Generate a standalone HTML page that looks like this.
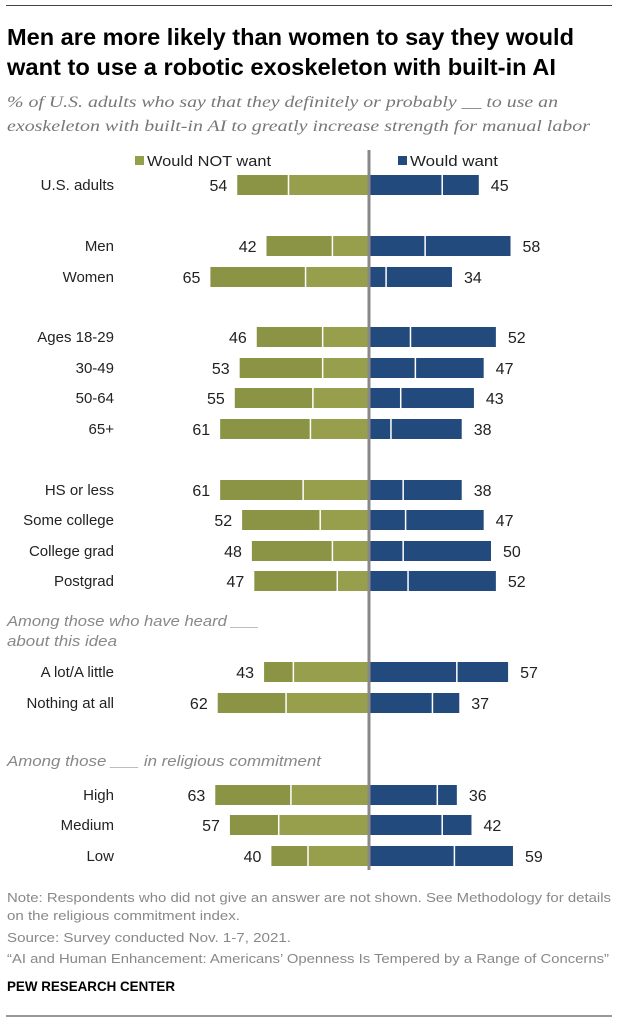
<!DOCTYPE html>
<html><head><meta charset="utf-8">
<style>
html,body{margin:0;padding:0;background:#fff;}
svg{display:block;font-family:"Liberation Sans",sans-serif;}
</style></head>
<body>
<svg id="chart" width="621" height="1024" viewBox="0 0 621 1024">
<line x1="6" y1="5.5" x2="612" y2="5.5" stroke="#444" stroke-width="1"/>
<text x="7" y="45" font-size="23" font-weight="bold" fill="#000" textLength="567" lengthAdjust="spacingAndGlyphs">Men are more likely than women to say they would</text>
<text x="7" y="75" font-size="23" font-weight="bold" fill="#000" textLength="549" lengthAdjust="spacingAndGlyphs">want to use a robotic exoskeleton with built-in AI</text>
<text x="7" y="107" font-size="16" font-style="italic" fill="#777" font-family="Liberation Serif, serif" textLength="551" lengthAdjust="spacingAndGlyphs">% of U.S. adults who say that they definitely or probably __ to use an</text>
<text x="7" y="131" font-size="16" font-style="italic" fill="#777" font-family="Liberation Serif, serif" textLength="583" lengthAdjust="spacingAndGlyphs">exoskeleton with built-in AI to greatly increase strength for manual labor</text>
<rect x="135" y="156" width="9" height="9" fill="#959e4a"/>
<text x="147" y="166" font-size="15" fill="#222" textLength="124" lengthAdjust="spacingAndGlyphs">Would NOT want</text>
<rect x="398" y="156" width="9" height="9" fill="#234a7c"/>
<text x="410" y="166" font-size="15" fill="#222" textLength="88" lengthAdjust="spacingAndGlyphs">Would want</text>
<g id="bars"></g>
<text x="7" y="626" font-size="14.5" font-style="italic" fill="#888" textLength="252" lengthAdjust="spacingAndGlyphs">Among those who have heard ___</text>
<text x="7" y="646" font-size="14.5" font-style="italic" fill="#888" textLength="110" lengthAdjust="spacingAndGlyphs">about this idea</text>
<text x="7" y="766" font-size="14.5" font-style="italic" fill="#888" textLength="314" lengthAdjust="spacingAndGlyphs">Among those ___ in religious commitment</text>
<g font-size="13" fill="#888">
<text x="7" y="902" textLength="604" lengthAdjust="spacingAndGlyphs">Note: Respondents who did not give an answer are not shown. See Methodology for details</text>
<text x="7" y="920" textLength="233" lengthAdjust="spacingAndGlyphs">on the religious commitment index.</text>
<text x="7" y="942" textLength="284" lengthAdjust="spacingAndGlyphs">Source: Survey conducted Nov. 1-7, 2021.</text>
<text x="7" y="963" textLength="602" lengthAdjust="spacingAndGlyphs">“AI and Human Enhancement: Americans’ Openness Is Tempered by a Range of Concerns”</text>
</g>
<text x="7" y="991" font-size="14" font-weight="bold" fill="#000" textLength="168" lengthAdjust="spacingAndGlyphs">PEW RESEARCH CENTER</text>
<line x1="6" y1="1016" x2="612" y2="1016" stroke="#999" stroke-width="2"/>
<line x1="369" y1="150" x2="369" y2="870" stroke="#888" stroke-width="3"/>
</svg>
<script>
const categories = ["U.S. adults","Men","Women","Ages 18-29","30-49","50-64","65+","HS or less","Some college","College grad","Postgrad","A lot/A little","Nothing at all","High","Medium","Low"];
const notWantTotal = [54,42,65,46,53,55,61,61,52,48,47,43,62,63,57,40];
const notWantProbably = [33,15,26,19,19,23,24,27,20,15,13,31,34,32,37,25];
const wantTotal = [45,58,34,52,47,43,38,38,47,50,52,57,37,36,42,59];
const wantProbably = [30,23,7,17,19,13,9,14,15,14,16,36,26,28,30,35];
const rowCenters = [185,246,277,337,368,398,429,490,520,551,581,672,703,795,825,856];

const NS = "http://www.w3.org/2000/svg";
const cx = 369, scale = 2.44, barH = 20;
const xL = v => cx - v*scale;
const xR = v => cx + v*scale;
const g = document.getElementById("bars");
function mk(tag, attrs){const e=document.createElementNS(NS,tag);for(const k in attrs)e.setAttribute(k,attrs[k]);g.appendChild(e);return e;}

categories.forEach((cat,i)=>{
  const y = rowCenters[i]-barH/2;
  const lab = mk("text",{x:114,y:rowCenters[i]+5,"font-size":15,fill:"#222","text-anchor":"end"});
  lab.textContent = cat;
  
  
  const o = mk("rect",{x:xL(notWantTotal[i]),y:y,width:(notWantTotal[i]-notWantProbably[i])*scale,height:barH,fill:"#8a9444"});
  
  
  const inn = mk("rect",{x:xL(notWantProbably[i]),y:y,width:notWantProbably[i]*scale,height:barH,fill:"#979f4c"});
  
  
  const d1 = mk("line",{x1:xL(notWantProbably[i]),x2:xL(notWantProbably[i]),y1:y,y2:y+barH,stroke:"#fff","stroke-width":1.5});
  
  
  const r1 = mk("rect",{x:cx,y:y,width:wantProbably[i]*scale,height:barH,fill:"#234a7c"});
  
  
  const r2 = mk("rect",{x:xR(wantProbably[i]),y:y,width:(wantTotal[i]-wantProbably[i])*scale,height:barH,fill:"#234a7c"});
  
  
  const d2 = mk("line",{x1:xR(wantProbably[i]),x2:xR(wantProbably[i]),y1:y,y2:y+barH,stroke:"#fff","stroke-width":1.5});
  
  
  const t1 = mk("text",{x:xL(notWantTotal[i])-10,y:rowCenters[i]+6,"font-size":16,fill:"#222","text-anchor":"end"});
  t1.textContent = notWantTotal[i];
  
  
  const t2 = mk("text",{x:xR(wantTotal[i])+12,y:rowCenters[i]+6,"font-size":16,fill:"#222"});
  t2.textContent = wantTotal[i];
  
  
});
</script>
</body></html>
